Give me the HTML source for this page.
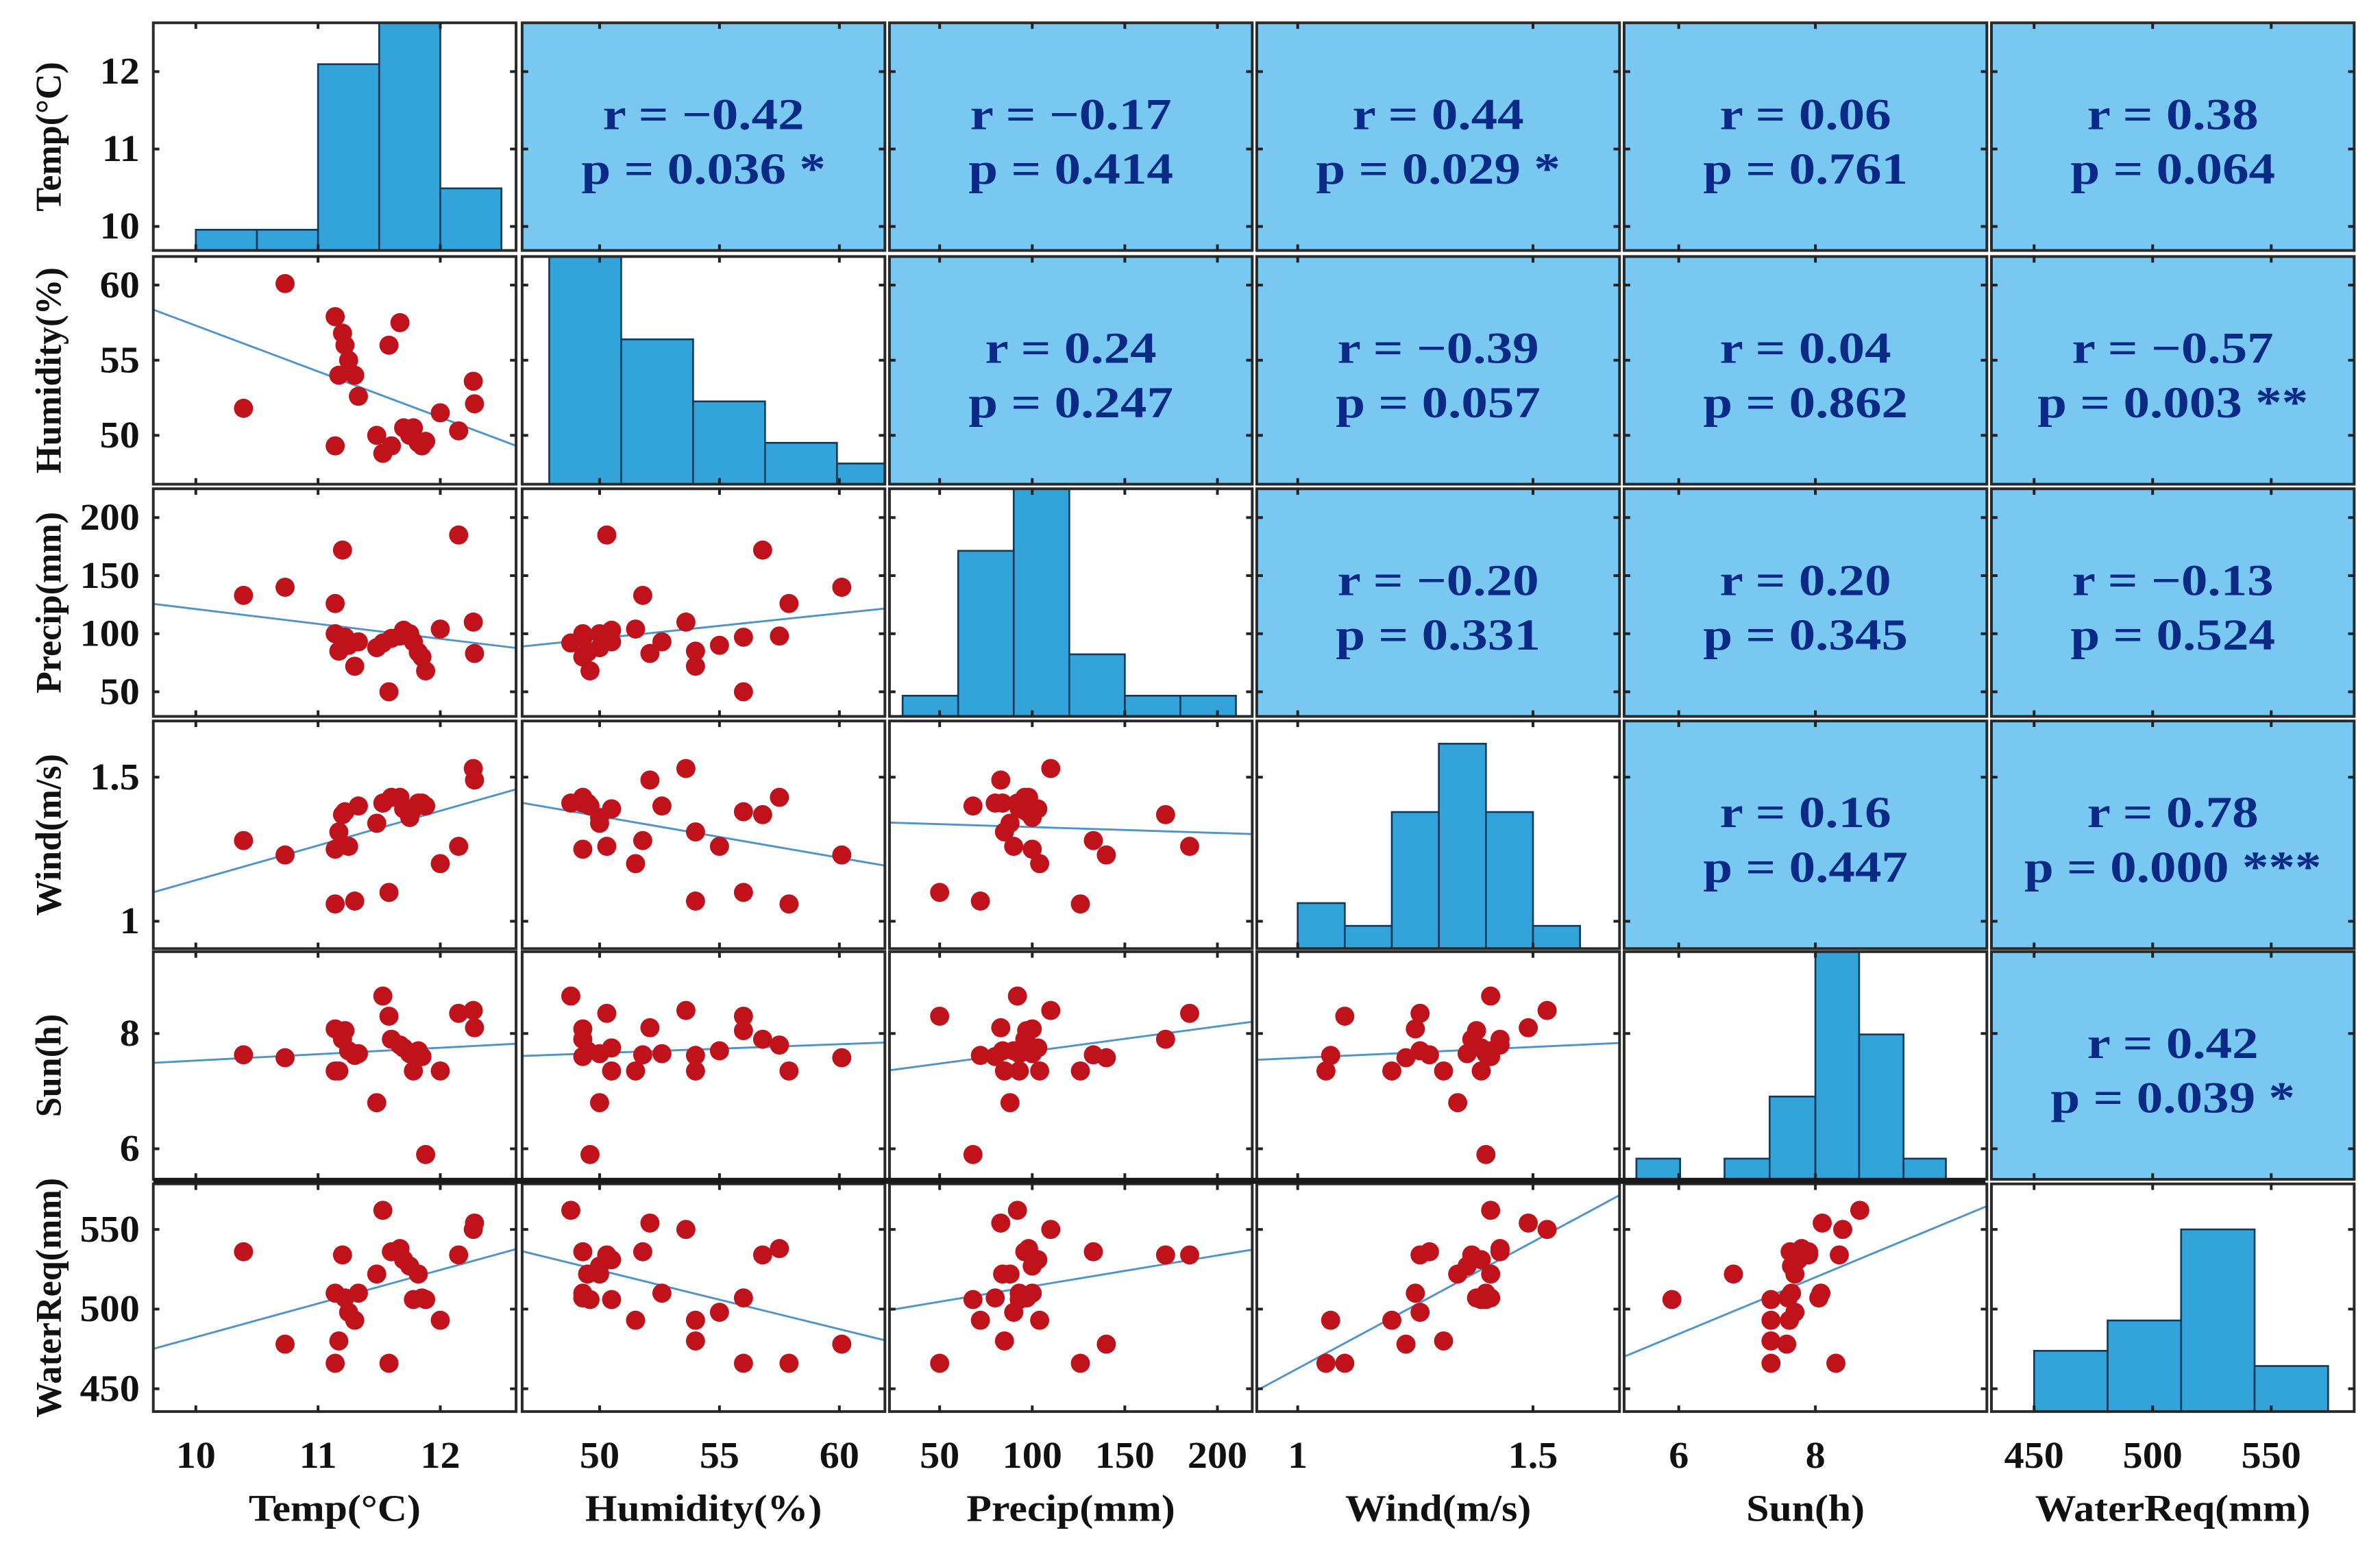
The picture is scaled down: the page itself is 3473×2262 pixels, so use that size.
<!DOCTYPE html>
<html><head><meta charset="utf-8"><title>Pairwise correlation matrix</title>
<style>
html,body{margin:0;padding:0;background:#fff;}
svg{display:block;}
text{font-family:"Liberation Serif","DejaVu Serif",serif;font-weight:bold;}
</style></head>
<body>
<svg id="chart" width="3473" height="2262" viewBox="0 0 1568 1021.2" xmlns="http://www.w3.org/2000/svg"></svg>
<script>
// ---- data ----
const varNames = ["Temp(°C)","Humidity(%)","Precip(mm)","Wind(m/s)","Sun(h)","WaterReq(mm)"];
const temp   = [10.39,10.73,11.14,11.14,11.17,11.20,11.22,11.25,11.30,11.33,11.48,11.53,11.58,11.60,11.67,11.70,11.75,11.78,11.82,11.85,11.88,12.00,12.15,12.27,12.28];
const humidity=[51.8,60.1,57.9,49.3,54.0,56.8,56.0,55.0,54.0,52.6,50.0,48.8,56.0,49.3,57.5,50.5,50.0,50.5,49.5,49.3,49.6,51.5,50.3,53.6,52.1];
const precip = [133,140,126,100,85,172,97,90,72,93,88,92,50,96,98,103,100,93,84,80,68,104,185,110,83];
const wind   = [1.28,1.23,1.06,1.25,1.31,1.37,1.38,1.26,1.07,1.40,1.34,1.41,1.10,1.43,1.43,1.39,1.36,1.39,1.41,1.41,1.40,1.20,1.26,1.53,1.49];
const sun    = [7.63,7.58,7.35,8.08,7.35,7.90,8.05,7.70,7.62,7.65,6.80,8.65,8.30,7.90,7.80,7.75,7.65,7.35,7.70,7.60,5.90,7.35,8.35,8.40,8.10];
const water  = [536,478,466,510,480,534,507,498,493,510,522,562,466,536,538,531,527,506,522,507,506,493,534,550,554];
const series = [temp,humidity,precip,wind,sun,water];

const tickTemp=[10,11,12], tickHum=[50,55,60], tickPrecip=[50,100,150,200], tickWind=[1,1.5], tickSun=[6,8], tickWater=[450,500,550];
const ticks=[tickTemp,tickHum,tickPrecip,tickWind,tickSun,tickWater];
const tickLabelsWind=["1","1.5"];

const histEdgesTemp=[10,10.5,11,11.5,12,12.5],      histCountsTemp=[1,1,9,11,3];
const histEdgesHum=[47.9,50.9,53.9,56.9,59.9,62.9], histCountsHum=[11,7,4,2,1];
const histEdgesPrecip=[30,60,90,120,150,180,210],   histCountsPrecip=[1,8,11,3,1,1];
const histEdgesWind=[1.0,1.1,1.2,1.3,1.4,1.5,1.6],  histCountsWind=[2,1,6,9,6,1];
const histEdgesSun=[5.38,6.02,6.67,7.33,8.0,8.64,9.29,9.91], histCountsSun=[1,0,1,4,11,7,1];
const histEdgesWater=[450,481,512,543,574],        histCountsWater=[4,6,12,3];
const histEdges=[histEdgesTemp,histEdgesHum,histEdgesPrecip,histEdgesWind,histEdgesSun,histEdgesWater];
const histCounts=[histCountsTemp,histCountsHum,histCountsPrecip,histCountsWind,histCountsSun,histCountsWater];

// upper triangle: [row][col]
const rText=[["","−0.42","−0.17","0.44","0.06","0.38"],
             ["","","0.24","−0.39","0.04","−0.57"],
             ["","","","−0.20","0.20","−0.13"],
             ["","","","","0.16","0.78"],
             ["","","","","","0.42"]];
const pText=[["","0.036 *","0.414","0.029 *","0.761","0.064"],
             ["","","0.247","0.057","0.862","0.003 **"],
             ["","","","0.331","0.345","0.524"],
             ["","","","","0.447","0.000 ***"],
             ["","","","","","0.039 *"]];

// ---- layout / scales (not data) ----
const colX=[101,344,586,828,1070,1312], PW=239;
const rowY=[15,169,322,475,627,780], PH=150;
const xDom=[[9.652,12.62],[46.77,61.9],[22.9,218.8],[0.913,1.684],[5.2,10.51],[432,585]];
const yDom=[[9.69,12.63],[46.75,61.9],[28.8,224.8],[0.905,1.695],[5.47,9.42],[435.7,578.6]];
const histMax=[11,11,11,10,11,15];

const NS="http://www.w3.org/2000/svg";
const svg=document.getElementById('chart');
function el(tag,attrs,parent){const e=document.createElementNS(NS,tag);for(const k in attrs)e.setAttribute(k,attrs[k]);(parent||svg).appendChild(e);return e;}
function txt(x,y,s,size,anchor,fill,sxScale,parent,rot){
  const tr='translate('+x+','+y+')'+(rot?' rotate('+rot+')':'')+' scale('+sxScale+',1)';
  const t=el('text',{x:0,y:0,'text-anchor':anchor,'font-size':size,fill:fill,transform:tr},parent);
  t.textContent=s;return t;
}
function sx(c,v){return colX[c]+(v-xDom[c][0])/(xDom[c][1]-xDom[c][0])*PW;}
function sy(r,v){return rowY[r]+PH-(v-yDom[r][0])/(yDom[r][1]-yDom[r][0])*PH;}
function fmt(i,v){return i===3?tickLabelsWind[ticks[3].indexOf(v)]:String(v);}

const defs=el('defs',{});
for(let r=0;r<6;r++)for(let c=0;c<6;c++){
  const cp=el('clipPath',{id:'cp'+r+'_'+c},defs);
  el('rect',{x:colX[c],y:rowY[r],width:PW,height:PH},cp);
}

for(let r=0;r<6;r++){
  for(let c=0;c<6;c++){
    const g=el('g',{'clip-path':'url(#cp'+r+'_'+c+')'});
    
    
    const x0=colX[c],y0=rowY[r];
    if(c>r){
      const bg=el('rect',{x:x0,y:y0,width:PW,height:PH,fill:'#78c8f1'},g);
      
      
      const t1=txt(x0+PW/2,y0+70,'r = '+rText[r][c],29,'middle','#0b2a86',1.2,g);
      
      
      const t2=txt(x0+PW/2,y0+106,'p = '+pText[r][c],29,'middle','#0b2a86',1.2,g);
      
      
    } else {
      el('rect',{x:x0,y:y0,width:PW,height:PH,fill:'#fff'},g);
      if(c===r){
        const ed=histEdges[c],ct=histCounts[c];
        for(let i=0;i<ct.length;i++){
          if(ct[i]===0)continue;
          const xa=sx(c,ed[i]),xb=sx(c,ed[i+1]);
          const h=ct[i]/histMax[c]*PH;
          const b=el('rect',{x:xa,y:y0+PH-h,width:xb-xa,height:h,fill:'#33a4d9',stroke:'#123a5c','stroke-width':1.2},g);
          
          
        }
      } else {
        const xs=series[c],ys=series[r],n=xs.length;
        let mx=0,my=0;for(let i=0;i<n;i++){mx+=xs[i];my+=ys[i];}mx/=n;my/=n;
        let sxy=0,sxx=0;for(let i=0;i<n;i++){sxy+=(xs[i]-mx)*(ys[i]-my);sxx+=(xs[i]-mx)**2;}
        const b=sxy/sxx,a=my-b*mx;
        const xa=xDom[c][0],xb=xDom[c][1];
        const ln=el('line',{x1:sx(c,xa),y1:sy(r,a+b*xa),x2:sx(c,xb),y2:sy(r,a+b*xb),stroke:'#4d93cc','stroke-width':1.3},g);
        
        
        for(let i=0;i<n;i++){
          const d=el('circle',{cx:sx(c,xs[i]),cy:sy(r,ys[i]),r:6.3,fill:'#c0121a'},g);
          
          
        }
      }
    }
    const fr=el('rect',{x:x0,y:y0,width:PW,height:PH,fill:'none',stroke:'#2a2a2a','stroke-width':1.8});
    
    
    ticks[c].forEach(v=>{const X=sx(c,v);
      el('line',{x1:X,y1:y0+PH,x2:X,y2:y0+PH-4,stroke:'#222','stroke-width':1.8});
      el('line',{x1:X,y1:y0,x2:X,y2:y0+4,stroke:'#222','stroke-width':1.8});});
    ticks[r].forEach(v=>{const Y=sy(r,v);
      el('line',{x1:x0,y1:Y,x2:x0+4,y2:Y,stroke:'#222','stroke-width':1.8});
      el('line',{x1:x0+PW,y1:Y,x2:x0+PW-4,y2:Y,stroke:'#222','stroke-width':1.8});});
  }
}
const sep=el('rect',{x:101,y:776,width:1207,height:4,fill:'#1a1a1a'});



for(let r=0;r<6;r++){
  ticks[r].forEach(v=>{
    const t=txt(92,sy(r,v)+8,fmt(r,v),25,'end','#111',1.05);
    
    
  });
  const cy=rowY[r]+PH/2;
  const t=txt(40,cy,varNames[r],24,'middle','#111',0.98,null,-90);
  
  
}
for(let c=0;c<6;c++){
  ticks[c].forEach(v=>{
    const t=txt(sx(c,v),967,fmt(c,v),25,'middle','#111',1.05);
    
    
  });
  const t=txt(colX[c]+PW/2,1002,varNames[c],25,'middle','#111',1.08);
  
  
}
</script>
</body></html>
